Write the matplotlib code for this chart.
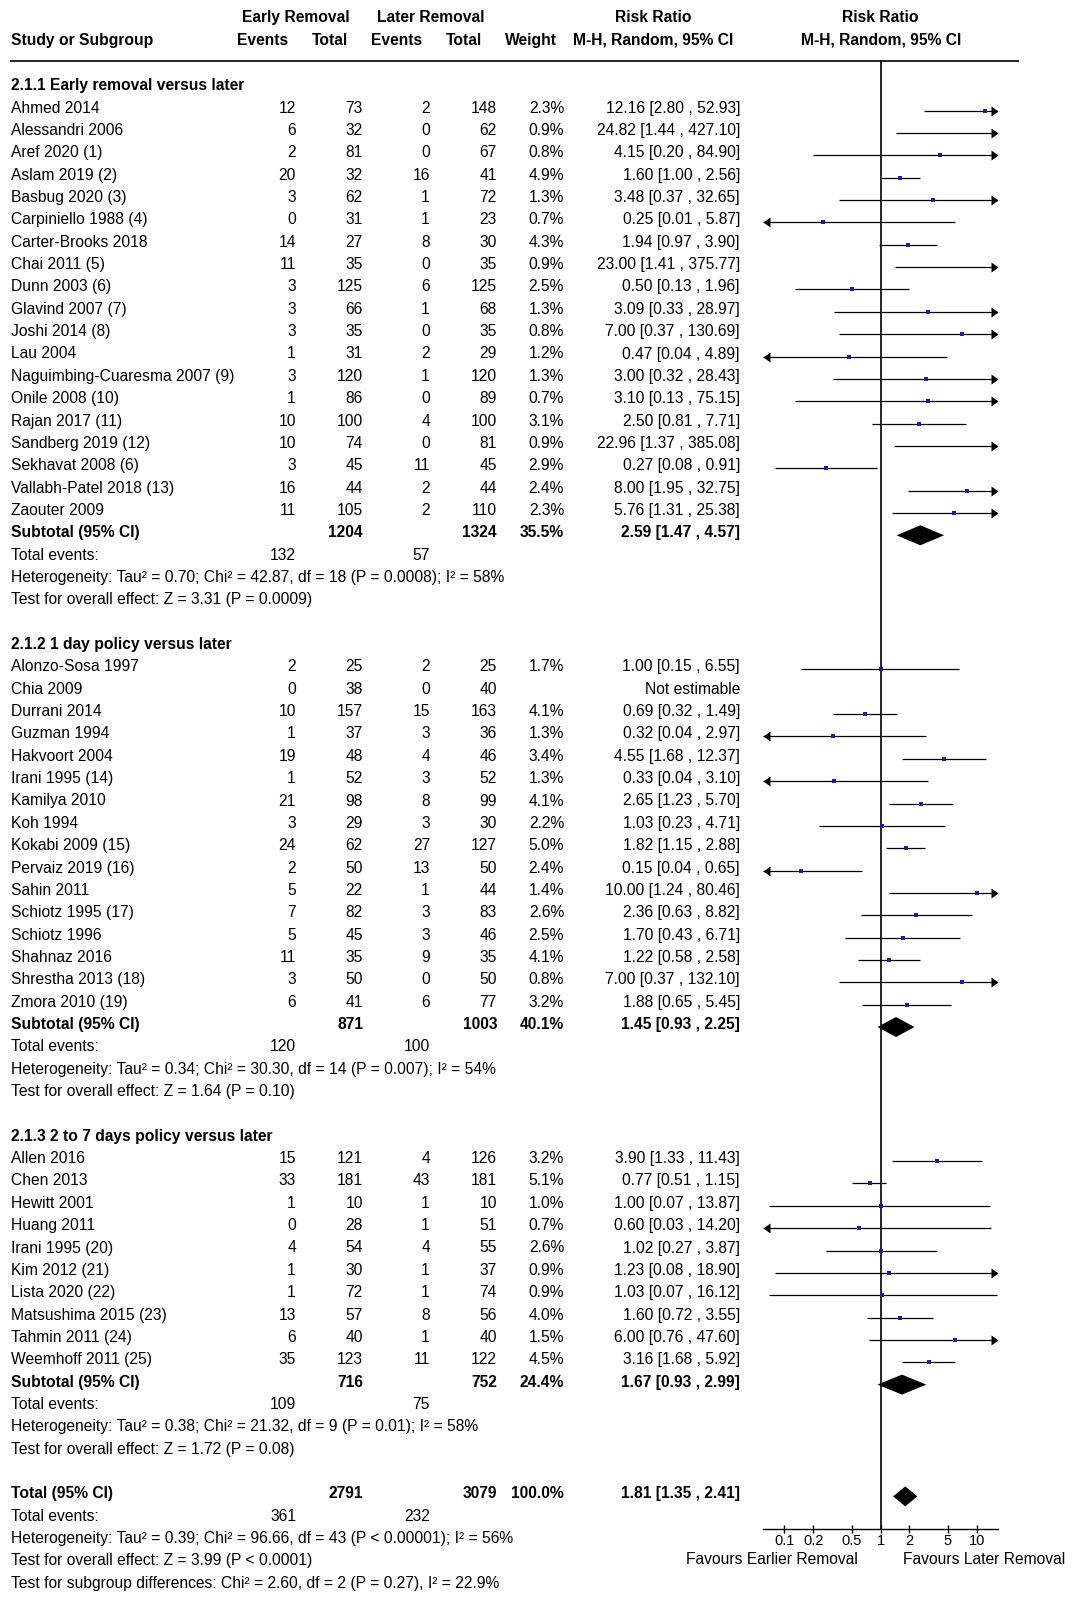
import matplotlib
matplotlib.use('Agg')
import matplotlib.pyplot as plt
from matplotlib.path import Path
from matplotlib.ticker import NullLocator
import numpy as np

plt.rcParams['font.family'] = ['Liberation Sans', 'DejaVu Sans']

# ---------------- data ----------------
group_titles = ["2.1.1 Early removal versus later",
                "2.1.2 1 day policy versus later",
                "2.1.3 2 to 7 days policy versus later"]

g1_names = ["Ahmed 2014", "Alessandri 2006", "Aref 2020 (1)", "Aslam 2019 (2)", "Basbug 2020 (3)",
            "Carpiniello 1988 (4)", "Carter-Brooks 2018", "Chai 2011 (5)", "Dunn 2003 (6)",
            "Glavind 2007 (7)", "Joshi 2014 (8)", "Lau 2004", "Naguimbing-Cuaresma 2007 (9)",
            "Onile 2008 (10)", "Rajan 2017 (11)", "Sandberg 2019 (12)", "Sekhavat 2008 (6)",
            "Vallabh-Patel 2018 (13)", "Zaouter 2009"]
g1_ev_e = [12, 6, 2, 20, 3, 0, 14, 11, 3, 3, 3, 1, 3, 1, 10, 10, 3, 16, 11]
g1_tot_e = [73, 32, 81, 32, 62, 31, 27, 35, 125, 66, 35, 31, 120, 86, 100, 74, 45, 44, 105]
g1_ev_c = [2, 0, 0, 16, 1, 1, 8, 0, 6, 1, 0, 2, 1, 0, 4, 0, 11, 2, 2]
g1_tot_c = [148, 62, 67, 41, 72, 23, 30, 35, 125, 68, 35, 29, 120, 89, 100, 81, 45, 44, 110]
g1_weight = [2.3, 0.9, 0.8, 4.9, 1.3, 0.7, 4.3, 0.9, 2.5, 1.3, 0.8, 1.2, 1.3, 0.7, 3.1, 0.9, 2.9, 2.4, 2.3]
g1_rr = [12.16, 24.82, 4.15, 1.60, 3.48, 0.25, 1.94, 23.00, 0.50, 3.09, 7.00, 0.47, 3.00, 3.10, 2.50, 22.96, 0.27, 8.00, 5.76]
g1_lo = [2.80, 1.44, 0.20, 1.00, 0.37, 0.01, 0.97, 1.41, 0.13, 0.33, 0.37, 0.04, 0.32, 0.13, 0.81, 1.37, 0.08, 1.95, 1.31]
g1_hi = [52.93, 427.10, 84.90, 2.56, 32.65, 5.87, 3.90, 375.77, 1.96, 28.97, 130.69, 4.89, 28.43, 75.15, 7.71, 385.08, 0.91, 32.75, 25.38]

g2_names = ["Alonzo-Sosa 1997", "Chia 2009", "Durrani 2014", "Guzman 1994", "Hakvoort 2004",
            "Irani 1995 (14)", "Kamilya 2010", "Koh 1994", "Kokabi 2009 (15)", "Pervaiz 2019 (16)",
            "Sahin 2011", "Schiotz 1995 (17)", "Schiotz 1996", "Shahnaz 2016", "Shrestha 2013 (18)",
            "Zmora 2010 (19)"]
g2_ev_e = [2, 0, 10, 1, 19, 1, 21, 3, 24, 2, 5, 7, 5, 11, 3, 6]
g2_tot_e = [25, 38, 157, 37, 48, 52, 98, 29, 62, 50, 22, 82, 45, 35, 50, 41]
g2_ev_c = [2, 0, 15, 3, 4, 3, 8, 3, 27, 13, 1, 3, 3, 9, 0, 6]
g2_tot_c = [25, 40, 163, 36, 46, 52, 99, 30, 127, 50, 44, 83, 46, 35, 50, 77]
g2_weight = [1.7, None, 4.1, 1.3, 3.4, 1.3, 4.1, 2.2, 5.0, 2.4, 1.4, 2.6, 2.5, 4.1, 0.8, 3.2]
g2_rr = [1.00, None, 0.69, 0.32, 4.55, 0.33, 2.65, 1.03, 1.82, 0.15, 10.00, 2.36, 1.70, 1.22, 7.00, 1.88]
g2_lo = [0.15, None, 0.32, 0.04, 1.68, 0.04, 1.23, 0.23, 1.15, 0.04, 1.24, 0.63, 0.43, 0.58, 0.37, 0.65]
g2_hi = [6.55, None, 1.49, 2.97, 12.37, 3.10, 5.70, 4.71, 2.88, 0.65, 80.46, 8.82, 6.71, 2.58, 132.10, 5.45]

g3_names = ["Allen 2016", "Chen 2013", "Hewitt 2001", "Huang 2011", "Irani 1995 (20)",
            "Kim 2012 (21)", "Lista 2020 (22)", "Matsushima 2015 (23)", "Tahmin 2011 (24)",
            "Weemhoff 2011 (25)"]
g3_ev_e = [15, 33, 1, 0, 4, 1, 1, 13, 6, 35]
g3_tot_e = [121, 181, 10, 28, 54, 30, 72, 57, 40, 123]
g3_ev_c = [4, 43, 1, 1, 4, 1, 1, 8, 1, 11]
g3_tot_c = [126, 181, 10, 51, 55, 37, 74, 56, 40, 122]
g3_weight = [3.2, 5.1, 1.0, 0.7, 2.6, 0.9, 0.9, 4.0, 1.5, 4.5]
g3_rr = [3.90, 0.77, 1.00, 0.60, 1.02, 1.23, 1.03, 1.60, 6.00, 3.16]
g3_lo = [1.33, 0.51, 0.07, 0.03, 0.27, 0.08, 0.07, 0.72, 0.76, 1.68]
g3_hi = [11.43, 1.15, 13.87, 14.20, 3.87, 18.90, 16.12, 3.55, 47.60, 5.92]

sub_tot_e = [1204, 871, 716]
sub_tot_c = [1324, 1003, 752]
sub_weight = [35.5, 40.1, 24.4]
sub_rr = [2.59, 1.45, 1.67]
sub_lo = [1.47, 0.93, 0.93]
sub_hi = [4.57, 2.25, 2.99]
sub_ev_e = [132, 120, 109]
sub_ev_c = [57, 100, 75]
sub_het = ["Heterogeneity: Tau² = 0.70; Chi² = 42.87, df = 18 (P = 0.0008); I² = 58%",
           "Heterogeneity: Tau² = 0.34; Chi² = 30.30, df = 14 (P = 0.007); I² = 54%",
           "Heterogeneity: Tau² = 0.38; Chi² = 21.32, df = 9 (P = 0.01); I² = 58%"]
sub_test = ["Test for overall effect: Z = 3.31 (P = 0.0009)",
            "Test for overall effect: Z = 1.64 (P = 0.10)",
            "Test for overall effect: Z = 1.72 (P = 0.08)"]

tot_tot_e, tot_tot_c, tot_weight = 2791, 3079, 100.0
tot_rr, tot_lo, tot_hi = 1.81, 1.35, 2.41
tot_ev_e, tot_ev_c = 361, 232
tot_het = "Heterogeneity: Tau² = 0.39; Chi² = 96.66, df = 43 (P < 0.00001); I² = 56%"
tot_test = "Test for overall effect: Z = 3.99 (P < 0.0001)"
tot_subdiff = "Test for subgroup differences: Chi² = 2.60, df = 2 (P = 0.27), I² = 22.9%"

tick_vals = [0.1, 0.2, 0.5, 1, 2, 5, 10]
tick_labels = ["0.1", "0.2", "0.5", "1", "2", "5", "10"]

groups = [
    (g1_names, g1_ev_e, g1_tot_e, g1_ev_c, g1_tot_c, g1_weight, g1_rr, g1_lo, g1_hi),
    (g2_names, g2_ev_e, g2_tot_e, g2_ev_c, g2_tot_c, g2_weight, g2_rr, g2_lo, g2_hi),
    (g3_names, g3_ev_e, g3_tot_e, g3_ev_c, g3_tot_c, g3_weight, g3_rr, g3_lo, g3_hi),
]

# ---------------- layout ----------------
W, H = 1080, 1607
FS = 11.25
P = 22.35           # row pitch (px)
B0 = 90.3           # baseline of row 0 (px)
M0 = 88.3           # marker centre of row 0 (px)
X_L, X_R = 763, 998
Y_T, Y_B = 61.3, 1529
LO, HI = 1 / 16.6, 16.6

C_EV_E, C_TOT_E, C_EV_C, C_TOT_C, C_W, C_RR = 296, 363, 430, 497, 564, 740
BLUE = '#1c1c9e'

fig = plt.figure(figsize=(W / 100, H / 100), dpi=100)
tab = fig.add_axes([0, 0, 1, 1])
tab.set_xlim(0, W)
tab.set_ylim(H, 0)
tab.axis('off')

fx = fig.add_axes([X_L / W, 1 - Y_B / H, (X_R - X_L) / W, (Y_B - Y_T) / H])
fx.patch.set_alpha(0)
fx.set_xscale('log')
fx.set_xlim(LO, HI)
fx.set_ylim((Y_B - M0) / P, (Y_T - M0) / P)
for s in ['top', 'left', 'right']:
    fx.spines[s].set_visible(False)
fx.spines['bottom'].set_linewidth(1.0)
fx.set_yticks([])
fx.set_xticks(tick_vals)
fx.set_xticklabels(tick_labels)
fx.xaxis.set_minor_locator(NullLocator())
fx.tick_params(axis='x', direction='inout', length=5.8, width=1.0, labelsize=10.5, pad=1)
fx.axvline(1, color='black', lw=1.2)

right_arrow = Path([(0, 0), (-7, 5), (-7, -5), (0, 0)],
                   [Path.MOVETO, Path.LINETO, Path.LINETO, Path.CLOSEPOLY])
left_arrow = Path([(0, 0), (7, 5), (7, -5), (0, 0)],
                  [Path.MOVETO, Path.LINETO, Path.LINETO, Path.CLOSEPOLY])
ARROW_MS = 14 * 0.72


def base(r):
    return B0 + r * P


def txt(x, r, s, ha='left', bold=False):
    tab.text(x, base(r), s, ha=ha, va='baseline', fontsize=FS,
             fontweight='bold' if bold else 'normal', color='black')


def study(r, name, ee, te, ec, tc, w, rr, lo, hi):
    txt(11, r, name)
    txt(C_EV_E, r, str(ee), 'right')
    txt(C_TOT_E, r, str(te), 'right')
    txt(C_EV_C, r, str(ec), 'right')
    txt(C_TOT_C, r, str(tc), 'right')
    if rr is None:
        txt(C_RR, r, "Not estimable", 'right')
        return
    txt(C_W, r, f"{w:.1f}%", 'right')
    txt(C_RR, r, f"{rr:.2f} [{lo:.2f} , {hi:.2f}]", 'right')
    fx.plot([max(lo, LO), min(hi, HI)], [r, r], color='black', lw=0.9,
            solid_capstyle='butt')
    if LO <= rr <= HI:
        side = max(3.5, 2.1 * np.sqrt(w))
        fx.plot([rr], [r], marker='s', ms=side * 0.72, mew=0, color=BLUE,
                linestyle='none')
    if hi > HI:
        fx.plot([HI], [r], marker=right_arrow, ms=ARROW_MS, mew=0, color='black',
                linestyle='none', clip_on=False)
    if lo < LO:
        fx.plot([LO], [r], marker=left_arrow, ms=ARROW_MS, mew=0, color='black',
                linestyle='none', clip_on=False)


def diamond(r, rr, lo, hi):
    h = 10.0 / P
    fx.fill([lo, rr, hi, rr], [r, r - h, r, r + h], color='black', lw=0)


# ---------------- header ----------------
def htxt(x, y, s, ha='center'):
    tab.text(x, y, s, ha=ha, va='baseline', fontsize=FS, fontweight='bold')


htxt(296, 22.2, "Early Removal")
htxt(430.5, 22.2, "Later Removal")
htxt(653, 22.2, "Risk Ratio")
htxt(880.7, 22.2, "Risk Ratio")
htxt(11, 44.6, "Study or Subgroup", 'left')
htxt(262.5, 44.6, "Events")
htxt(329.5, 44.6, "Total")
htxt(397, 44.6, "Events")
htxt(463.5, 44.6, "Total")
htxt(531, 44.6, "Weight")
htxt(653, 44.6, "M-H, Random, 95% CI")
htxt(880.7, 44.6, "M-H, Random, 95% CI")
tab.plot([10, 1019], [61.3, 61.3], color='black', lw=1.2, solid_capstyle='butt')

# ---------------- body ----------------
r = 0
for gi, g in enumerate(groups):
    txt(11, r, group_titles[gi], bold=True)
    r += 1
    for row in zip(*g):
        study(r, *row)
        r += 1
    txt(11, r, "Subtotal (95% CI)", bold=True)
    txt(C_TOT_E, r, str(sub_tot_e[gi]), 'right', True)
    txt(C_TOT_C, r, str(sub_tot_c[gi]), 'right', True)
    txt(C_W, r, f"{sub_weight[gi]:.1f}%", 'right', True)
    txt(C_RR, r, f"{sub_rr[gi]:.2f} [{sub_lo[gi]:.2f} , {sub_hi[gi]:.2f}]", 'right', True)
    diamond(r, sub_rr[gi], sub_lo[gi], sub_hi[gi])
    r += 1
    txt(11, r, "Total events:")
    txt(C_EV_E, r, str(sub_ev_e[gi]), 'right')
    txt(C_EV_C, r, str(sub_ev_c[gi]), 'right')
    r += 1
    txt(11, r, sub_het[gi])
    r += 1
    txt(11, r, sub_test[gi])
    r += 2

txt(11, r, "Total (95% CI)", bold=True)
txt(C_TOT_E, r, str(tot_tot_e), 'right', True)
txt(C_TOT_C, r, str(tot_tot_c), 'right', True)
txt(C_W, r, f"{tot_weight:.1f}%", 'right', True)
txt(C_RR, r, f"{tot_rr:.2f} [{tot_lo:.2f} , {tot_hi:.2f}]", 'right', True)
diamond(r, tot_rr, tot_lo, tot_hi)
r += 1
txt(11, r, "Total events:")
txt(C_EV_E, r, str(tot_ev_e), 'right')
txt(C_EV_C, r, str(tot_ev_c), 'right')
r += 1
txt(11, r, tot_het)
r += 1
txt(11, r, tot_test)
r += 1
txt(11, r, tot_subdiff)

tab.text(858, 1564, "Favours Earlier Removal", ha='right', va='baseline', fontsize=FS)
tab.text(903, 1564, "Favours Later Removal", ha='left', va='baseline', fontsize=FS)

fig.savefig('out.png', dpi=100, facecolor='white')
